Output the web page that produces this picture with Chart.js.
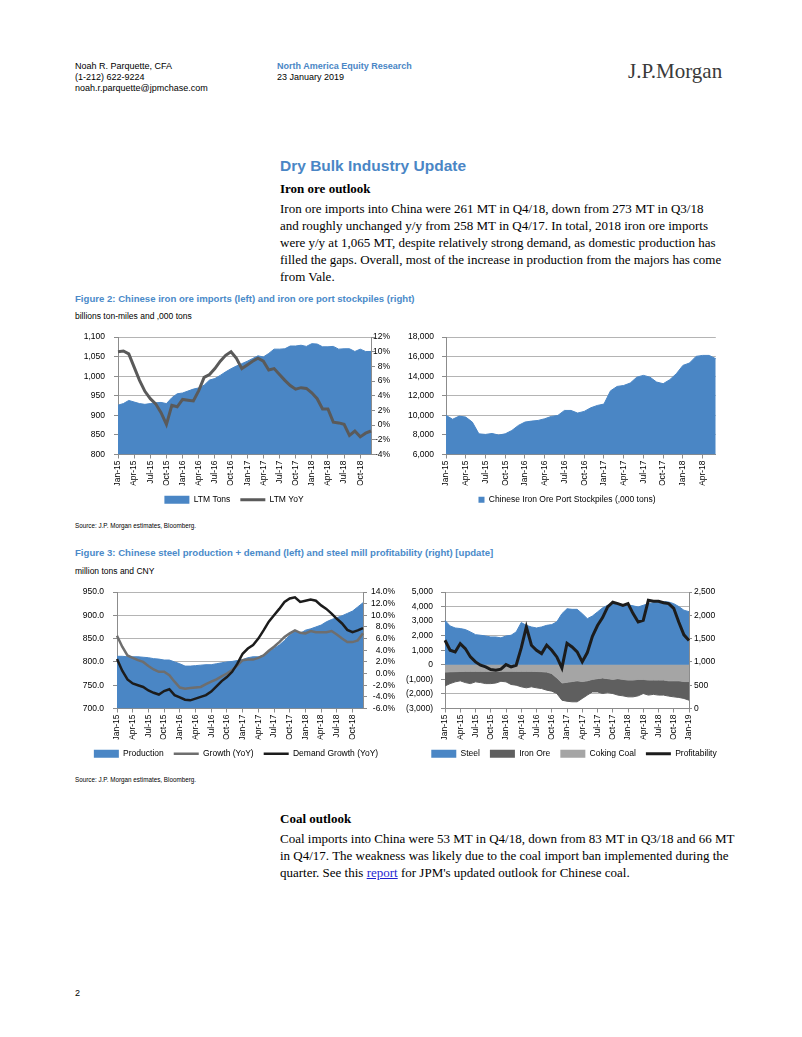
<!DOCTYPE html>
<html>
<head>
<meta charset="utf-8">
<title>Dry Bulk Industry Update</title>
<script src="https://cdn.jsdelivr.net/npm/chart.js@4.4.1/dist/chart.umd.min.js"></script>
<style>
  html, body { margin: 0; padding: 0; background: #fff; }
  body { position: relative; width: 802px; height: 1037px; overflow: hidden;
         font-family: 'Liberation Sans', Arial, sans-serif; color: #000; }
  .t { position: absolute; white-space: nowrap; }
  .hd { font-size: 9px; line-height: 11px; }
  .serif { font-family: 'Liberation Serif', 'Times New Roman', serif; }
  .body { font-size: 13px; line-height: 17px; }
  .fig { font-size: 9.6px; line-height: 12px; font-weight: bold; color: #4a8ac9; }
  .sub { font-size: 8.5px; line-height: 10px; }
  .src { font-size: 6.3px; line-height: 8px; }
  canvas { position: absolute; }
</style>
</head>
<body>
<div class="t hd" style="left:75px;top:61px">Noah R. Parquette, CFA<br>(1-212) 622-9224<br>noah.r.parquette@jpmchase.com</div>
<div class="t hd" style="left:277px;top:61px"><b style="color:#4a86c5">North America Equity Research</b><br>23 January 2019</div>
<div class="t serif" style="left:628px;top:59px;font-size:21px;line-height:25px;color:#3a3a3a">J.P.Morgan</div>

<div class="t" style="left:280px;top:157px;font-size:15.5px;line-height:18px;font-weight:bold;color:#4a86c5">Dry Bulk Industry Update</div>
<div class="t serif body" style="left:280px;top:179.5px;font-weight:bold">Iron ore outlook</div>
<div class="t serif body" style="left:280px;top:199.5px">Iron ore imports into China were 261 MT in Q4/18, down from 273 MT in Q3/18<br>and roughly unchanged y/y from 258 MT in Q4/17. In total, 2018 iron ore imports<br>were y/y at 1,065 MT, despite relatively strong demand, as domestic production has<br>filled the gaps. Overall, most of the increase in production from the majors has come<br>from Vale.</div>

<div class="t fig" style="left:75px;top:293px">Figure 2: Chinese iron ore imports (left) and iron ore port stockpiles (right)</div>
<div class="t sub" style="left:75px;top:311px">billions ton-miles and ,000 tons</div>
<canvas id="c1" width="312" height="193" style="left:78px;top:321px"></canvas>
<canvas id="c2" width="322" height="193" style="left:406px;top:321px"></canvas>
<div class="t src" style="left:75px;top:522px">Source: J.P. Morgan estimates, Bloomberg.</div>

<div class="t fig" style="left:75px;top:547px">Figure 3: Chinese steel production + demand (left) and steel mill profitability (right) [update]</div>
<div class="t sub" style="left:75px;top:566px">million tons and CNY</div>
<canvas id="c3" width="318" height="192" style="left:77px;top:576px"></canvas>
<canvas id="c4" width="338" height="192" style="left:405px;top:576px"></canvas>
<div class="t src" style="left:75px;top:776px">Source: J.P. Morgan estimates, Bloomberg.</div>

<div class="t serif body" style="left:280px;top:809.5px;font-weight:bold">Coal outlook</div>
<div class="t serif body" style="left:280px;top:829.5px">Coal imports into China were 53 MT in Q4/18, down from 83 MT in Q3/18 and 66 MT<br>in Q4/17. The weakness was likely due to the coal import ban implemented during the<br>quarter. See this <a href="#" style="color:#1f1fd0;text-decoration:underline">report</a> for JPM's updated outlook for Chinese coal.</div>

<div class="t hd" style="left:75px;top:988px">2</div>

<script>
// month categories (x axis of all four charts)
const months = [
    'Jan-15','Feb-15','Mar-15','Apr-15','May-15','Jun-15','Jul-15','Aug-15','Sep-15','Oct-15','Nov-15','Dec-15',
    'Jan-16','Feb-16','Mar-16','Apr-16','May-16','Jun-16','Jul-16','Aug-16','Sep-16','Oct-16','Nov-16','Dec-16',
    'Jan-17','Feb-17','Mar-17','Apr-17','May-17','Jun-17','Jul-17','Aug-17','Sep-17','Oct-17','Nov-17','Dec-17',
    'Jan-18','Feb-18','Mar-18','Apr-18','May-18','Jun-18','Jul-18','Aug-18','Sep-18','Oct-18','Nov-18','Dec-18',
    'Jan-19'
];

// Figure 2 left: LTM iron ore imports (bn ton-miles) and LTM YoY (%)
const ltmTons = [926, 930, 938, 934, 930, 928, 930, 932, 933, 930, 945, 955,
    957, 962, 967, 970, 977, 990, 994, 1002, 1011, 1019, 1026, 1032,
    1038, 1045, 1052, 1049, 1058, 1069, 1069, 1070, 1077, 1077, 1079, 1076,
    1083, 1082, 1075, 1075, 1076, 1069, 1070, 1070, 1063, 1069, 1063, 1063];
const ltmYoy = [10.0, 10.1, 9.7, 7.9, 6.1, 4.6, 3.6, 2.9, 1.7, 0.1, 2.7, 2.5,
    3.5, 3.4, 3.3, 4.7, 6.5, 6.9, 7.7, 8.7, 9.5, 10.0, 9.1, 7.7,
    8.2, 8.7, 9.1, 8.7, 7.5, 7.7, 6.9, 6.1, 5.4, 4.9, 5.1, 5.0,
    4.4, 3.6, 2.2, 2.2, 0.4, 0.3, 0.1, -1.4, -0.8, -1.6, -1.1, -0.8];
const tonsTicks = [800, 850, 900, 950, 1000, 1050, 1100];
const yoyTicks = [-4, -2, 0, 2, 4, 6, 8, 10, 12];

// Figure 2 right: port stockpiles (,000 tons), Jan-15 to Jun-18
const stockpiles = [10000, 9600, 9920, 9820, 9310, 8110, 8050, 8150, 7980, 8110, 8450, 8970,
    9310, 9410, 9480, 9650, 9890, 9990, 10500, 10500, 10230, 10400, 10770, 11010,
    11150, 12500, 12950, 13050, 13300, 13900, 14080, 13900, 13400, 13230, 13640, 14250,
    15100, 15340, 16020, 16120, 16120, 15780];
const stockTicks = [6000, 8000, 10000, 12000, 14000, 16000, 18000];

// Figure 3 left: steel production (mt) and growth rates (%)
const production = [812, 812, 811, 811, 811, 810, 809, 807, 806, 804, 804, 800,
    796, 791, 791, 792, 793, 794, 794, 796, 798, 800, 801, 803,
    805, 809, 811, 811, 814, 821, 829, 836, 846, 857, 866, 861,
    868, 871, 875, 879, 886, 891, 895, 899, 904, 909, 918, 927];
const prodGrowth = [6.5, 4.6, 3.1, 2.7, 2.3, 2.0, 1.3, 0.7, 0.3, 0.3, -0.3, -1.4,
    -2.4, -2.6, -2.5, -2.4, -2.3, -1.8, -1.4, -1.0, -0.5, 0.0, 0.6, 1.4,
    2.3, 2.4, 2.4, 2.7, 3.1, 3.9, 4.6, 5.4, 6.3, 6.9, 7.4, 7.0,
    6.9, 7.3, 7.1, 7.1, 7.1, 7.3, 6.7, 6.0, 5.4, 5.4, 5.7, 6.9];
const demandGrowth = [2.5, 0.5, -1.0, -1.7, -2.0, -2.3, -2.9, -3.3, -3.6, -3.0, -2.7, -3.7,
    -4.1, -4.5, -4.6, -4.3, -4.0, -3.7, -3.1, -2.2, -1.3, -0.6, 0.3, 1.7,
    3.4, 4.3, 4.9, 6.0, 7.4, 8.9, 10.0, 11.1, 12.3, 12.9, 13.1, 12.3,
    12.5, 12.7, 12.5, 11.7, 11.1, 10.3, 9.4, 8.6, 7.5, 7.1, 7.4, 7.8];
const prodTicks = [700, 750, 800, 850, 900, 950];
const growthTicks = [-6, -4, -2, 0, 2, 4, 6, 8, 10, 12, 14];

// Figure 3 right: steel price vs input costs (CNY/t) and mill profitability
const steel = [3050, 2670, 2530, 2490, 2420, 2260, 2070, 2030, 1980, 1910, 1910, 1850,
    1980, 2030, 2260, 2900, 2710, 2600, 2530, 2600, 2710, 2760, 2950, 3510,
    3850, 3810, 3810, 3510, 3170, 3350, 3630, 3910, 4090, 4200, 4160, 4140,
    4120, 4050, 3970, 4090, 4200, 4270, 4310, 4340, 4310, 4200, 4000, 3750, 3650];
const cokingCoal = [-500, -480, -470, -460, -450, -450, -450, -450, -450, -450, -450, -440,
    -440, -440, -450, -450, -450, -450, -460, -470, -500, -600, -900, -1250,
    -1200, -1150, -1100, -1150, -1100, -1000, -950, -900, -950, -1000, -950, -1000,
    -1050, -1050, -1000, -1000, -1050, -1050, -1050, -1050, -1100, -1100, -1100, -1150, -1150];
const ironOre = [-950, -810, -700, -640, -770, -840, -720, -770, -840, -840, -800, -690,
    -730, -910, -950, -1060, -1130, -1060, -1120, -1160, -1240, -1210, -1070, -1180,
    -1300, -1390, -1440, -1160, -980, -860, -910, -1070, -950, -970, -1130, -1130,
    -1150, -1150, -1130, -970, -1030, -980, -1030, -1030, -1050, -1100, -1140, -1160, -1280];
const profitability = [1464, 1250, 1214, 1393, 1286, 1107, 1000, 929, 893, 836, 821, 843,
    943, 893, 929, 1300, 1750, 1357, 1250, 1179, 1357, 1250, 1107, 871,
    1400, 1321, 1214, 1000, 1200, 1550, 1780, 1950, 2180, 2280, 2250, 2214,
    2250, 2036, 1857, 1893, 2321, 2300, 2300, 2271, 2250, 2150, 1850, 1580, 1460];
const spreadTicks = [-3000, -2000, -1000, 0, 1000, 2000, 3000, 4000, 5000];
const profitTicks = [0, 500, 1000, 1500, 2000, 2500];

const BLUE = '#4a86c5';
const GRID = '#b4b4b4';
const AXIS = '#8c8c8c';
const FONT = { family: "'Liberation Sans', Arial, sans-serif", size: 8.5 };

Chart.defaults.animation = false;
Chart.defaults.responsive = false;
Chart.defaults.devicePixelRatio = 1;
Chart.defaults.plugins.tooltip.enabled = false;

function comma(v) { return v.toLocaleString('en-US'); }
function acct(v) { return v < 0 ? '(' + comma(-v) + ')' : comma(v); }

function xAxis(labels, h) {
    return {
        type: 'category',
        labels: labels,
        offset: false,
        grid: {
            drawOnChartArea: false,
            tickLength: 4,
            color: function (c) { return c.index % 3 === 0 ? AXIS : 'rgba(0,0,0,0)'; }
        },
        border: { display: true, color: AXIS },
        ticks: {
            autoSkip: false, minRotation: 90, maxRotation: 90, padding: 2,
            color: '#000', font: FONT,
            callback: function (v, i) { return i % 3 === 0 ? labels[i] : ''; }
        },
        afterFit: function (scale) { scale.height = h; }
    };
}

function yAxis(pos, ticks, fmt, width, opts) {
    return {
        type: 'linear',
        position: pos,
        min: ticks[0],
        max: ticks[ticks.length - 1],
        stacked: opts.stacked || false,
        grid: { drawOnChartArea: opts.grid, color: GRID, tickColor: AXIS, tickLength: opts.tick || 4 },
        border: { display: true, color: AXIS },
        ticks: { autoSkip: false, padding: opts.pad, crossAlign: opts.align || 'near', color: '#000', font: FONT, callback: fmt },
        afterBuildTicks: function (scale) { scale.ticks = ticks.map(function (v) { return { value: v }; }); },
        afterFit: function (scale) { scale.width = width; }
    };
}

function legend(order, w, h) {
    return {
        position: 'bottom',
        labels: {
            usePointStyle: true, pointStyleWidth: w, boxHeight: h, padding: 10,
            color: '#000', font: FONT,
            sort: function (a, b) { return order.indexOf(a.text) - order.indexOf(b.text); }
        }
    };
}

function area(label, data, color, fill, axis) {
    return {
        label: label, data: data, yAxisID: axis || 'y',
        backgroundColor: color, borderColor: color, borderWidth: 1,
        fill: fill, pointRadius: 0, pointStyle: 'rect', pointBorderWidth: 0,
        tension: 0, order: 5
    };
}

function line(label, data, color, width, order) {
    return {
        label: label, data: data, yAxisID: 'y1',
        borderColor: color, backgroundColor: color, borderWidth: width,
        fill: false, pointRadius: 0, pointStyle: 'line', pointBorderWidth: width,
        tension: 0, order: order
    };
}

// layout padding shared by the four charts (top keeps the plot at the same height as the reference)
const PAD = { top: 16, right: 0, left: 0, bottom: 0 };

// ---- Figure 2 left
function drawImports() {
    const labels = months.slice(0, 48);
    new Chart(document.getElementById('c1'), {
        type: 'line',
        data: {
            labels: labels,
            datasets: [
                line('LTM YoY', ltmYoy, '#5a5a5a', 3, 0),
                area('LTM Tons', ltmTons, BLUE, 'origin')
            ]
        },
        options: {
            layout: { padding: PAD },
            scales: {
                x: xAxis(labels, 31),
                y: yAxis('left', tonsTicks, comma, 40, { grid: true, pad: 9 }),
                y1: yAxis('right', yoyTicks, function (v) { return v + '%'; }, 19, { grid: false, pad: 2, align: 'far' })
            },
            plugins: { legend: legend(['LTM Tons', 'LTM YoY'], 25, 8) }
        }
    });
}

// ---- Figure 2 right
function drawStockpiles() {
    const labels = months.slice(0, 42);
    new Chart(document.getElementById('c2'), {
        type: 'line',
        data: {
            labels: labels,
            datasets: [area('Chinese Iron Ore Port Stockpiles (,000 tons)', stockpiles, BLUE, 'origin')]
        },
        options: {
            layout: { padding: PAD },
            scales: {
                x: xAxis(labels, 31),
                y: yAxis('left', stockTicks, comma, 40, { grid: true, pad: 8 })
            },
            plugins: { legend: legend(['Chinese Iron Ore Port Stockpiles (,000 tons)'], 6, 6) }
        }
    });
}

// ---- Figure 3 left
function drawProduction() {
    const labels = months.slice(0, 48);
    new Chart(document.getElementById('c3'), {
        type: 'line',
        data: {
            labels: labels,
            datasets: [
                line('Demand Growth (YoY)', demandGrowth, '#1c1c1c', 2.5, 0),
                line('Growth (YoY)', prodGrowth, '#6e6e6e', 2.5, 1),
                area('Production', production, BLUE, 'origin')
            ]
        },
        options: {
            layout: { padding: PAD },
            scales: {
                x: xAxis(labels, 31),
                y: yAxis('left', prodTicks, function (v) { return v.toFixed(1); }, 40, { grid: true, pad: 9 }),
                y1: yAxis('right', growthTicks, function (v) { return v.toFixed(1) + '%'; }, 32, { grid: false, pad: 2, align: 'far' })
            },
            plugins: { legend: legend(['Production', 'Growth (YoY)', 'Demand Growth (YoY)'], 25, 8) }
        }
    });
}

// ---- Figure 3 right
function drawProfitability() {
    const labels = months;
    new Chart(document.getElementById('c4'), {
        type: 'line',
        data: {
            labels: labels,
            datasets: [
                area('Steel', steel, BLUE, 'origin'),
                area('Coking Coal', cokingCoal, '#a5a5a5', 'origin'),
                area('Iron Ore', ironOre, '#5f5f5f', '-1'),
                line('Profitability', profitability, '#1c1c1c', 3, 0)
            ]
        },
        options: {
            layout: { padding: PAD },
            scales: {
                x: xAxis(labels, 31),
                y: yAxis('left', spreadTicks, acct, 40, { grid: true, pad: 8, stacked: true }),
                y1: yAxis('right', profitTicks, comma, 54, { grid: false, pad: 2, tick: 3 })
            },
            plugins: { legend: legend(['Steel', 'Iron Ore', 'Coking Coal', 'Profitability'], 25, 8) }
        }
    });
}

drawImports();
drawStockpiles();
drawProduction();
drawProfitability();
</script>
</body>
</html>
